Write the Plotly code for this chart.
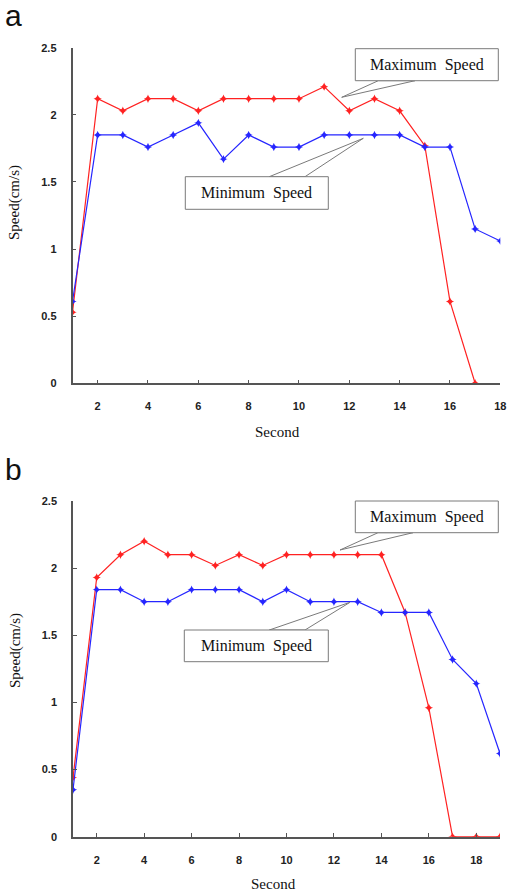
import plotly.graph_objects as go

W, H = 507, 893

# Panel a: speed per second
sec_a = list(range(1, 19))
max_a = [0.53, 2.12, 2.03, 2.12, 2.12, 2.03, 2.12, 2.12, 2.12, 2.12, 2.21, 2.03, 2.12, 2.03, 1.77, 0.61, 0.0]
min_a = [0.61, 1.85, 1.85, 1.76, 1.85, 1.94, 1.67, 1.85, 1.76, 1.76, 1.85, 1.85, 1.85, 1.85, 1.76, 1.76, 1.15, 1.06]

# Panel b: speed per second
sec_b = list(range(1, 20))
max_b = [0.44, 1.93, 2.10, 2.20, 2.10, 2.10, 2.02, 2.10, 2.02, 2.10, 2.10, 2.10, 2.10, 2.10, 1.67, 0.96, 0.0, 0.0, 0.0]
min_b = [0.35, 1.84, 1.84, 1.75, 1.75, 1.84, 1.84, 1.84, 1.75, 1.84, 1.75, 1.75, 1.75, 1.67, 1.67, 1.67, 1.32, 1.14, 0.62]

y_ticks = [0, 0.5, 1, 1.5, 2, 2.5]
y_ticktext = ["0", "0.5", "1", "1.5", "2", "2.5"]
x_ticks = [2, 4, 6, 8, 10, 12, 14, 16, 18]

RED = "#ff2222"
BLUE = "#2626ff"
AXIS = "#555555"
SERIF = "Liberation Serif, Times New Roman, serif"
SANS = "Liberation Sans, Arial, sans-serif"


def px(x):
    return x / W


def py(y):
    return 1 - y / H


fig = go.Figure()


def add_series(xs, ys, color, xa, ya):
    fig.add_trace(go.Scatter(
        x=xs[:len(ys)], y=ys, mode="lines+markers",
        line=dict(color=color, width=1.2),
        marker=dict(symbol="star-diamond", size=6, color=color),
        xaxis=xa, yaxis=ya, showlegend=False, hoverinfo="x+y",
    ))


add_series(sec_a, max_a, RED, "x", "y")
add_series(sec_a, min_a, BLUE, "x", "y")
add_series(sec_b, max_b, RED, "x2", "y2")
add_series(sec_b, min_b, BLUE, "x2", "y2")

axis_common = dict(
    showline=True, linecolor=AXIS, linewidth=1.5,
    ticks="inside", ticklen=4, tickwidth=1, tickcolor=AXIS,
    showgrid=False, zeroline=False, automargin=False,
    tickfont=dict(family=SANS, size=11, color="#222222", weight="bold"),
)

layout_axes = dict(
    xaxis=dict(domain=[px(72.5), px(500.3)], range=[1, 18], anchor="y",
               tickvals=x_ticks, ticklabelstandoff=12, **axis_common),
    yaxis=dict(domain=[py(383.3), py(47.7)], range=[0, 2.5], anchor="x",
               tickvals=y_ticks, ticktext=y_ticktext, ticklabelstandoff=12, **axis_common),
    xaxis2=dict(domain=[px(73), px(500)], range=[1, 19], anchor="y2",
                tickvals=x_ticks, ticklabelstandoff=12, **axis_common),
    yaxis2=dict(domain=[py(836.7), py(501)], range=[0, 2.5], anchor="x2",
                tickvals=y_ticks, ticktext=y_ticktext, ticklabelstandoff=12, **axis_common),
)

shapes = []
annotations = []


def callout(box, base, tip, text):
    x0, y0, x1, y1 = box
    (bx0, by), (bx1, _) = base
    tx, ty = tip
    shapes.append(dict(
        type="path", xref="paper", yref="paper",
        path=f"M {px(bx0)} {py(by)} L {px(tx)} {py(ty)} L {px(bx1)} {py(by)} Z",
        line=dict(color="#7a7a7a", width=1), fillcolor="white", layer="above",
    ))
    shapes.append(dict(
        type="rect", xref="paper", yref="paper",
        x0=px(x0), x1=px(x1), y0=py(y1), y1=py(y0),
        line=dict(color="#7a7a7a", width=1), fillcolor="white", layer="above",
    ))
    annotations.append(dict(
        xref="paper", yref="paper", x=px((x0 + x1) / 2), y=py((y0 + y1) / 2),
        text=text, showarrow=False, xanchor="center", yanchor="middle",
        font=dict(family=SERIF, size=16, color="#111111"),
    ))


callout((355.3, 48.7, 498.3, 80.7), ((378.3, 80.7), (415, 80.7)), (341.7, 97.3), "Maximum  Speed")
callout((185.3, 176.7, 328.3, 209.3), ((269.3, 176.7), (305, 176.7)), (363.3, 138.3), "Minimum  Speed")
callout((355.3, 501, 498.3, 532.7), ((378, 532.7), (413, 532.7)), (340, 550), "Maximum  Speed")
callout((184.3, 630, 328.3, 661.7), ((269.3, 630), (305, 630)), (350, 602.3), "Minimum  Speed")


def text(x, y, s, size, family, angle=0, xanchor="center"):
    annotations.append(dict(
        xref="paper", yref="paper", x=px(x), y=py(y), text=s, showarrow=False,
        xanchor=xanchor, yanchor="middle", textangle=angle,
        font=dict(family=family, size=size, color="#111111"),
    ))


# Panel letters
text(3, 16, "a", 30, SANS, xanchor="left")
text(3, 469, "b", 30, SANS, xanchor="left")

# Axis titles
text(15, 203, "Speed(cm/s)", 15, SERIF, angle=-90)
text(277, 432, "Second", 15, SERIF)
text(15, 651, "Speed(cm/s)", 15, SERIF, angle=-90)
text(273, 884, "Second", 15, SERIF)

fig.update_layout(
    width=W, height=H,
    margin=dict(l=0, r=0, t=0, b=0),
    paper_bgcolor="white", plot_bgcolor="white",
    shapes=shapes, annotations=annotations,
    **layout_axes,
)

fig.write_html("out.html")
